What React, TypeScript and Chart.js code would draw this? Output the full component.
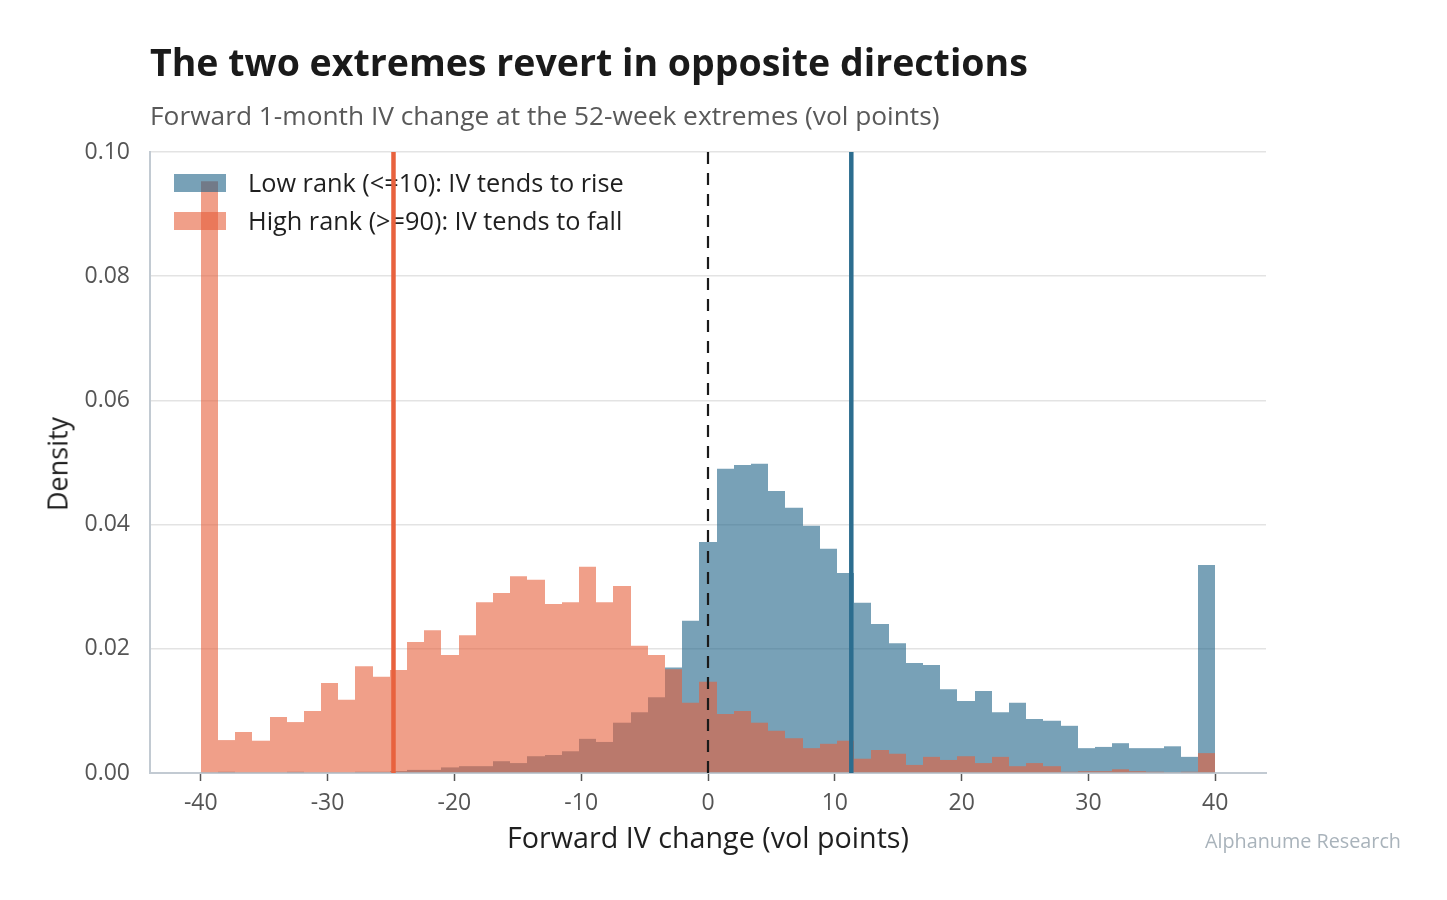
import React, { useEffect, useRef } from "react";
import { Chart, registerables } from "chart.js";

Chart.register(...registerables);

// ---- Data ----
const BIN_MIN = -40;
const BIN_MAX = 40;
const BIN_COUNT = 59;

// Low rank (<=10) density per bin
const lowRankDensity = [
  0.0001, 0.0002, 0.0001, 0.0001, 0.0001, 0.0002, 0.0001, 0.0001, 0.0001, 0.0002,
  0.0002, 0.0003, 0.0005, 0.0005, 0.0009, 0.0011, 0.0011, 0.0019, 0.0016, 0.0027,
  0.0029, 0.0035, 0.0055, 0.0050, 0.0081, 0.0098, 0.0122, 0.0170, 0.0245, 0.0372,
  0.0490, 0.0496, 0.0498, 0.0454, 0.0427, 0.0398, 0.0361, 0.0322, 0.0274, 0.0240,
  0.0209, 0.0177, 0.0174, 0.0135, 0.0116, 0.0132, 0.0098, 0.0113, 0.0087, 0.0084,
  0.0076, 0.0040, 0.0042, 0.0048, 0.0040, 0.0040, 0.0043, 0.0026, 0.0335,
];

// High rank (>=90) density per bin
const highRankDensity = [
  0.0953, 0.0053, 0.0066, 0.0052, 0.0090, 0.0082, 0.0100, 0.0145, 0.0118, 0.0172,
  0.0155, 0.0166, 0.0211, 0.0230, 0.0190, 0.0222, 0.0275, 0.0290, 0.0317, 0.0311,
  0.0272, 0.0275, 0.0332, 0.0275, 0.0301, 0.0205, 0.0190, 0.0167, 0.0113, 0.0147,
  0.0095, 0.0100, 0.0081, 0.0068, 0.0056, 0.0040, 0.0047, 0.0052, 0.0023, 0.0037,
  0.0031, 0.0013, 0.0026, 0.0021, 0.0027, 0.0016, 0.0026, 0.0011, 0.0016, 0.0011,
  0.0002, 0.0003, 0.0003, 0.0006, 0.0003, 0.0002, 0.0001, 0.0002, 0.0032,
];

const lowRankMean = 11.3;
const highRankMean = -24.8;
const zeroReference = 0;

const xTicks = [-40, -30, -20, -10, 0, 10, 20, 30, 40];
const yTicks = [0, 0.02, 0.04, 0.06, 0.08, 0.1];
const X_MIN = -44;
const X_MAX = 44;
const Y_MIN = 0;
const Y_MAX = 0.1;

const lowLabel = "Low rank (<=10): IV tends to rise";
const highLabel = "High rank (>=90): IV tends to fall";

// ---- Styles ----
const FONT = "'Open Sans', 'Noto Sans', sans-serif";
const BLUE_FILL = "rgba(30, 98, 135, 0.6)";
const RED_FILL = "rgba(230, 95, 58, 0.6)";
const BLUE_LINE = "#2c6d8f";
const RED_LINE = "#e8623e";
const SPINE = "#c2cad2";

const binWidth = (BIN_MAX - BIN_MIN) / BIN_COUNT;
const binCenters = lowRankDensity.map((_, i) => BIN_MIN + (i + 0.5) * binWidth);

// Snap bar edges to whole pixels so adjacent translucent bars show no seams
const snapBarsPlugin = {
  id: "snapBars",
  afterDatasetsUpdate(chart: any) {
    chart.data.datasets.forEach((ds: any, di: number) => {
      const meta = chart.getDatasetMeta(di);
      if (meta.type !== "bar") return;
      meta.data.forEach((el: any) => {
        const l = Math.round(el.x - el.width / 2);
        const r = Math.round(el.x + el.width / 2);
        el.x = (l + r) / 2;
        el.width = r - l;
      });
    });
  },
};

const legendPlugin = {
  id: "inlineLegend",
  afterDatasetDraw(chart: any, args: any) {
    if (args.index !== 1) return;
    const { ctx, chartArea } = chart;
    const items = [
      { label: lowLabel, color: BLUE_FILL },
      { label: highLabel, color: RED_FILL },
    ];
    ctx.save();
    ctx.font = `25.3px ${FONT}`;
    ctx.textBaseline = "middle";
    ctx.textAlign = "left";
    items.forEach((it, i) => {
      const y = chartArea.top + 22 + i * 38;
      ctx.fillStyle = it.color;
      ctx.fillRect(chartArea.left + 24, y, 52, 18);
      ctx.fillStyle = "#1f1f1f";
      ctx.fillText(it.label, chartArea.left + 98, y + 11);
    });
    ctx.restore();
  },
};

export default function App() {
  const canvasRef = useRef<HTMLCanvasElement>(null);

  useEffect(() => {
    const canvas = canvasRef.current;
    if (!canvas) return;
    const vline = (x: number, color: string, width: number, dash: number[], order: number) => ({
      type: "line" as const,
      data: [
        { x, y: Y_MIN },
        { x, y: Y_MAX },
      ],
      borderColor: color,
      borderWidth: width,
      borderDash: dash,
      borderCapStyle: "butt",
      pointRadius: 0,
      fill: false,
      tension: 0,
      order,
    });

    const chart = new Chart(canvas, {
      type: "bar",
      data: {
        datasets: [
          {
            label: lowLabel,
            data: binCenters.map((x, i) => ({ x, y: lowRankDensity[i] })),
            backgroundColor: BLUE_FILL,
            borderWidth: 0,
            barPercentage: 1,
            categoryPercentage: 1,
            grouped: false,
            inflateAmount: 0,
            order: 3,
          } as any,
          {
            label: highLabel,
            data: binCenters.map((x, i) => ({ x, y: highRankDensity[i] })),
            backgroundColor: RED_FILL,
            borderWidth: 0,
            barPercentage: 1,
            categoryPercentage: 1,
            grouped: false,
            inflateAmount: 0,
            order: 2,
          } as any,
          vline(zeroReference, "#1a1a1a", 2.2, [12, 9], 1) as any,
          vline(highRankMean, RED_LINE, 4.5, [], 1) as any,
          vline(lowRankMean, BLUE_LINE, 4.5, [], 1) as any,
        ],
      },
      options: {
        responsive: false,
        animation: false,
        devicePixelRatio: 1,
        layout: { padding: { left: 0, top: 152, right: 181, bottom: 0 } },
        plugins: {
          legend: { display: false },
          tooltip: { enabled: false },
          title: { display: false },
        },
        scales: {
          x: {
            type: "linear",
            min: X_MIN,
            max: X_MAX,
            offset: false,
            afterBuildTicks: (s: any) => {
              s.ticks = xTicks.map((v) => ({ value: v }));
            },
            afterFit: (s: any) => {
              s.height = 127;
            },
            grid: {
              offset: false,
              drawOnChartArea: false,
              drawTicks: true,
              tickLength: 8,
              tickColor: "#555555",
              tickWidth: 1.5,
            },
            border: { display: true, color: SPINE, width: 2 },
            ticks: {
              color: "#555555",
              font: { family: FONT, size: 23 },
              padding: 9,
              maxRotation: 0,
              autoSkip: false,
              callback: (v: any) => String(v),
            },
          },
          y: {
            type: "linear",
            min: Y_MIN,
            max: Y_MAX,
            afterBuildTicks: (s: any) => {
              s.ticks = yTicks.map((v) => ({ value: v }));
            },
            afterFit: (s: any) => {
              s.width = 150;
            },
            grid: {
              color: "#e3e3e3",
              lineWidth: 1.5,
              drawTicks: false,
            },
            border: { display: true, color: SPINE, width: 2 },
            ticks: {
              color: "#555555",
              font: { family: FONT, size: 23 },
              padding: 20,
              callback: (v: any) => Number(v).toFixed(2),
            },
          },
        },
      } as any,
      plugins: [snapBarsPlugin, legendPlugin],
    });
    return () => chart.destroy();
  }, []);

  return (
    <div
      style={{
        position: "absolute",
        left: 0,
        top: 0,
        width: 1447,
        height: 900,
        background: "#ffffff",
        fontFamily: FONT,
        overflow: "hidden",
      }}
    >
      <canvas
        ref={canvasRef}
        width={1447}
        height={900}
        style={{ position: "absolute", left: 0, top: 0, width: 1447, height: 900 }}
      />
      <div
        style={{
          position: "absolute",
          left: 150,
          top: 43,
          fontSize: 37.5,
          fontWeight: 700,
          lineHeight: 1,
          color: "#1a1a1a",
          whiteSpace: "nowrap",
        }}
      >
        The two extremes revert in opposite directions
      </div>
      <div
        style={{
          position: "absolute",
          left: 150,
          top: 102,
          fontSize: 26.3,
          lineHeight: 1,
          color: "#595959",
          whiteSpace: "nowrap",
        }}
      >
        Forward 1-month IV change at the 52-week extremes (vol points)
      </div>
      <div
        style={{
          position: "absolute",
          left: 708,
          top: 823,
          transform: "translateX(-50%)",
          fontSize: 28.7,
          lineHeight: 1,
          color: "#1f1f1f",
          whiteSpace: "nowrap",
        }}
      >
        Forward IV change (vol points)
      </div>
      <div
        style={{
          position: "absolute",
          left: 57,
          top: 464,
          transform: "translate(-50%, -50%) rotate(-90deg)",
          fontSize: 27,
          lineHeight: 1,
          color: "#1f1f1f",
          whiteSpace: "nowrap",
        }}
      >
        Density
      </div>
      <div
        style={{
          position: "absolute",
          right: 1447 - 1401,
          top: 831,
          fontSize: 19.8,
          lineHeight: 1,
          color: "#a9b3bb",
          whiteSpace: "nowrap",
        }}
      >
        Alphanume Research
      </div>
    </div>
  );
}
